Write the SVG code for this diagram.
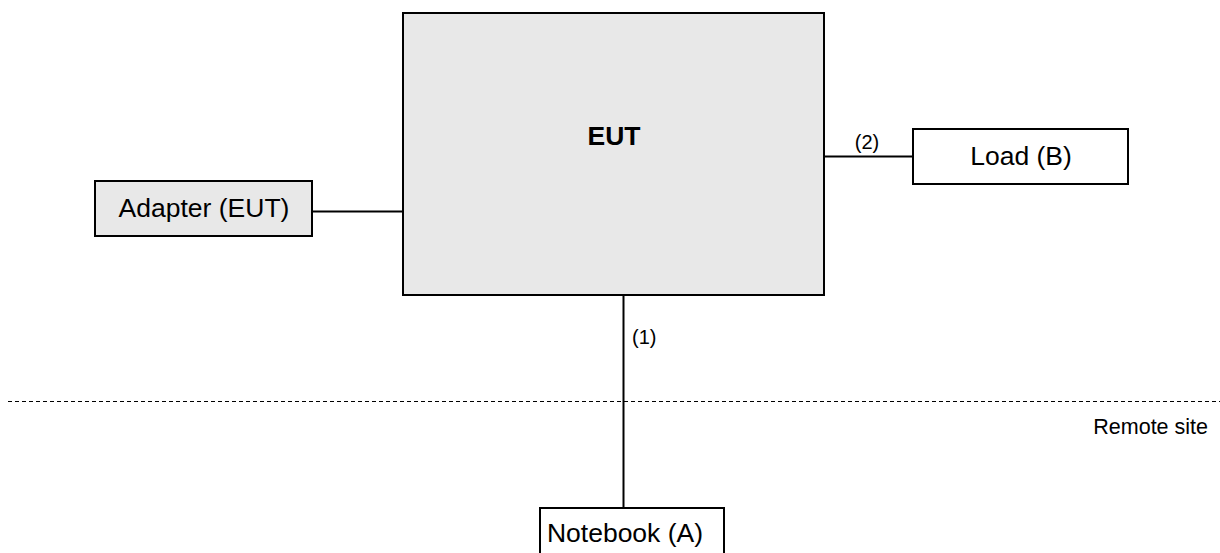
<svg xmlns="http://www.w3.org/2000/svg" width="1220" height="553" viewBox="0 0 1220 553">
<style>
.box{stroke:#000;stroke-width:2}
.g{fill:#e8e8e8}
.w{fill:#fff}
.t{font-family:"Liberation Sans",Arial,sans-serif;font-size:26.5px;fill:#000;text-anchor:middle}
.s{font-family:"Liberation Sans",Arial,sans-serif;font-size:20px;fill:#000}
.c{stroke:#000;stroke-width:2;fill:none}
</style>
<rect width="1220" height="553" fill="#fff"/>
<g id="connectors">
<line class="c" x1="312" y1="211.5" x2="403" y2="211.5"/>
<line class="c" x1="824" y1="156.5" x2="913" y2="156.5"/>
<line class="c" x1="623.5" y1="295" x2="623.5" y2="508"/>
<text class="s" x="867" y="149" text-anchor="middle">(2)</text>
<text class="s" x="632" y="344">(1)</text>
</g>
<g id="boundary">
<line x1="8" y1="401.5" x2="1220" y2="401.5" stroke="#000" stroke-width="1" stroke-dasharray="4,3"/>
<text class="s" x="1208" y="434" text-anchor="end" style="font-size:21.5px">Remote site</text>
</g>
<g id="eut">
<rect class="box g" x="403" y="13" width="421" height="282"/>
<text class="t" x="614" y="145" font-weight="bold">EUT</text>
</g>
<g id="adapter">
<rect class="box g" x="95" y="181" width="217" height="55"/>
<text class="t" x="204" y="217">Adapter (EUT)</text>
</g>
<g id="load">
<rect class="box w" x="913" y="129" width="215" height="55"/>
<text class="t" x="1021" y="165">Load (B)</text>
</g>
<g id="notebook">
<rect class="box w" x="540" y="508" width="184" height="50"/>
<text class="t" x="625" y="542">Notebook (A)</text>
</g>
</svg>
